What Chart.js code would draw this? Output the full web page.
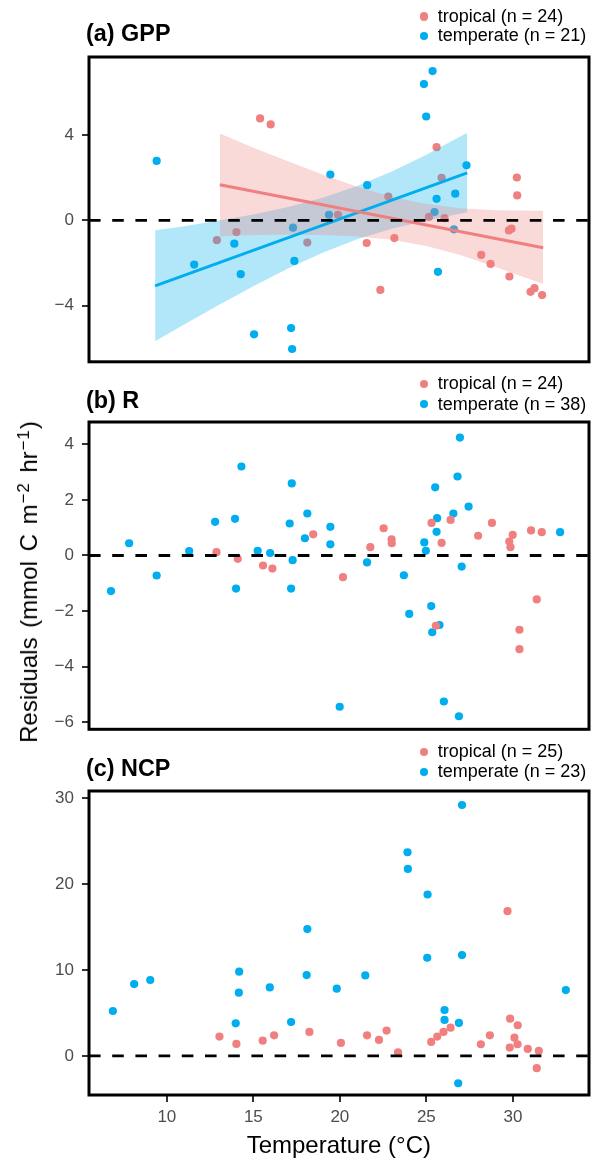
<!DOCTYPE html>
<html><head><meta charset="utf-8">
<script src="https://cdn.jsdelivr.net/npm/chart.js@4.4.1/dist/chart.umd.min.js"></script>
<style>
html,body{margin:0;padding:0;background:#fff;}
body{width:594px;height:1160px;position:relative;overflow:hidden;font-family:"Liberation Sans",Arial,Helvetica,sans-serif;}
canvas{position:absolute;left:0;}
.t{position:absolute;white-space:nowrap;line-height:1;color:#000;}
.title{font-weight:bold;font-size:23.4px;left:86px;}
.leg{font-size:18px;left:437.7px;}
.dot{position:absolute;width:8.3px;height:8.3px;border-radius:50%;left:420px;}
.red{background:#F08080;}
.blue{background:#00AEEF;}
sup{font-size:0.7em;vertical-align:0.5em;line-height:0;margin-left:1px;letter-spacing:1px;}
</style></head><body>
<canvas id="ca" width="594" height="380" style="top:0px"></canvas>
<canvas id="cb" width="594" height="370" style="top:380px"></canvas>
<canvas id="cc" width="594" height="410" style="top:750px"></canvas>

<div class="t title" style="top:21.9px">(a) GPP</div>
<div class="dot red" style="top:12.4px"></div><div class="t leg" style="top:6.5px">tropical (n = 24)</div>
<div class="dot blue" style="top:31.9px"></div><div class="t leg" style="top:26px">temperate (n = 21)</div>

<div class="t title" style="top:388.5px">(b) R</div>
<div class="dot red" style="top:379.9px"></div><div class="t leg" style="top:374px">tropical (n = 24)</div>
<div class="dot blue" style="top:400.2px"></div><div class="t leg" style="top:394.6px">temperate (n = 38)</div>

<div class="t title" style="top:756.9px">(c) NCP</div>
<div class="dot red" style="top:747.9px"></div><div class="t leg" style="top:742.1px">tropical (n = 25)</div>
<div class="dot blue" style="top:767.6px"></div><div class="t leg" style="top:761.8px">temperate (n = 23)</div>

<div class="t" style="left:88.8px;width:500px;text-align:center;top:1133px;font-size:24px;">Temperature (°C)</div>
<div class="t" style="left:28.75px;top:582px;font-size:24px;word-spacing:3px;transform:translate(-50%,-50%) rotate(-90deg);">Residuals (mmol C m<sup>−2</sup> hr<sup>−1</sup>)</div>

<script>
// ---------- DATA ----------
const xRange = [5.5, 34.4];
const xTicks = [10, 15, 20, 25, 30];

// (a) GPP
const gppTropX = [15.39,16.0,22.8,25.59,25.88,30.23,30.25,19.89,25.15,26.05,29.77,29.92,14.02,12.89,18.12,21.55,23.15,22.34,28.17,28.71,29.80,31.02,31.25,31.69];
const gppTropY = [4.78,4.50,1.12,3.43,2.0,2.01,1.17,0.26,0.16,0.11,-0.47,-0.39,-0.55,-0.93,-1.04,-1.06,-0.83,-3.26,-1.62,-2.04,-2.63,-3.35,-3.18,-3.50];
const gppTempX = [9.41,19.45,21.58,24.86,25.36,24.99,27.32,26.67,25.59,19.37,25.47,26.59,13.9,17.29,17.37,11.58,14.27,25.67,15.04,17.18,17.24];
const gppTempY = [2.79,2.15,1.65,6.39,7.0,4.87,2.58,1.25,1.01,0.26,0.39,-0.42,-1.09,-0.34,-1.90,-2.07,-2.52,-2.41,-5.34,-5.05,-6.03];
const gppYRange = [-6.63, 7.66];
const gppYTicks = [-4, 0, 4];

// fitted lines and confidence bands (panel a)
const tropBandX = [13.06,15,17,19,21,23,25,27,29,31.75];
const tropBandHi = [4.07,3.41,2.77,2.15,1.58,1.11,0.77,0.57,0.48,0.45];
const tropBandLo = [-0.76,-0.68,-0.67,-0.68,-0.75,-0.91,-1.20,-1.64,-2.18,-2.98];
const tropFitX = [13.06,31.75];
const tropFitY = [1.67,-1.28];
const tempBandX = [9.32,11,13,15,17,19,21,23,25,27.36];
const tempBandHi = [-0.46,-0.27,-0.01,0.28,0.63,1.06,1.61,2.29,3.08,4.11];
const tempBandLo = [-5.67,-4.88,-3.97,-3.09,-2.26,-1.52,-0.89,-0.39,0.00,0.38];
const tempFitX = [9.32,27.36];
const tempFitY = [-3.07,2.23];

// (b) R
const rTropX = [25.30,26.40,28.79,22.53,18.46,27.99,29.99,31.05,31.67,22.99,23.0,21.76,25.88,29.79,29.86,12.87,14.10,15.56,16.10,20.18,31.38,25.55,30.38,30.38];
const rTropY = [1.17,1.28,1.17,0.98,0.76,0.71,0.74,0.90,0.84,0.58,0.44,0.30,0.45,0.50,0.30,0.12,-0.12,-0.36,-0.47,-0.78,-1.58,-2.53,-2.67,-3.37];
const rTempX = [26.94,14.31,17.22,26.80,25.51,27.44,12.79,13.94,17.10,18.12,19.45,25.62,26.56,25.59,17.98,7.82,32.73,24.88,19.45,24.97,11.29,15.25,15.97,17.27,21.57,27.04,9.41,23.70,6.77,14.0,17.18,25.28,24.01,25.76,25.34,19.99,26.01,26.88];
const rTempY = [4.24,3.20,2.59,2.84,2.45,1.76,1.21,1.32,1.15,1.51,1.03,1.34,1.51,0.85,0.62,0.44,0.84,0.47,0.40,0.17,0.16,0.17,0.09,-0.17,-0.25,-0.40,-0.72,-0.71,-1.28,-1.19,-1.19,-1.82,-2.10,-2.50,-2.76,-5.44,-5.25,-5.78];
const rYRange = [-6.25, 4.80];
const rYTicks = [-6, -4, -2, 0, 2, 4];

// (c) NCP
const ncpTropX = [29.69,29.84,30.28,26.40,25.99,25.63,25.28,22.70,22.26,21.57,18.24,16.20,15.54,13.04,14.02,20.06,23.36,28.15,28.67,30.09,29.82,30.27,30.86,31.50,31.38];
const ncpTropY = [16.86,4.34,3.57,3.29,2.79,2.25,1.63,2.95,1.86,2.40,2.79,2.40,1.78,2.25,1.40,1.51,0.43,1.36,2.40,2.13,0.97,1.36,0.81,0.58,-1.43];
const ncpTempX = [27.06,23.91,23.93,25.07,18.12,25.05,27.06,14.18,18.08,21.47,8.11,9.04,15.95,19.82,33.06,14.16,6.88,26.05,26.05,26.88,13.98,17.18,26.84];
const ncpTempY = [29.22,23.72,21.78,18.80,14.77,11.43,11.74,9.81,9.42,9.38,8.37,8.84,7.98,7.83,7.67,7.36,5.23,5.35,4.19,3.84,3.80,3.95,-3.18];
const ncpYRange = [-4.55, 30.85];
const ncpYTicks = [0, 10, 20, 30];

// ---------- STYLE ----------
const RED = '#F08080', BLUE = '#00AEEF';
const RED_FILL = 'rgba(240,128,128,0.30)', BLUE_FILL = 'rgba(0,174,239,0.30)';
const FONT = '"Liberation Sans", Arial, Helvetica, sans-serif';

const zip = (xs, ys) => xs.map((x, i) => ({x, y: ys[i]}));
const fmt = v => v < 0 ? '\u2212' + Math.abs(v) : String(v);

const framePlugin = {
  id: 'frame',
  afterDatasetsDraw(chart) {
    const {ctx, chartArea: a, scales: {y}} = chart;
    const py = y.getPixelForValue(0);
    ctx.save();
    ctx.beginPath();
    ctx.setLineDash([11.6, 11.6]);
    ctx.lineWidth = 2.8;
    ctx.strokeStyle = '#000';
    ctx.moveTo(a.left, py);
    ctx.lineTo(a.right, py);
    ctx.stroke();
    ctx.restore();
  },
  afterDraw(chart) {
    const {ctx, chartArea: a} = chart;
    ctx.save();
    ctx.lineWidth = 3;
    ctx.strokeStyle = '#000';
    ctx.strokeRect(a.left, a.top, a.right - a.left, a.bottom - a.top);
    ctx.restore();
  }
};

function points(xs, ys, color) {
  return {type: 'scatter', data: zip(xs, ys), backgroundColor: color, borderWidth: 0,
          pointRadius: 4.1, pointHoverRadius: 4.1, order: 3};
}

function makePanel(id, datasets, yRange, yTicks, showX, padding) {
  new Chart(document.getElementById(id), {
    type: 'scatter',
    data: {datasets},
    options: {
      responsive: false, animation: false, events: [],
      layout: {padding},
      plugins: {legend: {display: false}, tooltip: {enabled: false}},
      scales: {
        x: {
          type: 'linear', min: xRange[0], max: xRange[1], display: showX,
          afterBuildTicks: s => { s.ticks = xTicks.map(v => ({value: v})); },
          afterFit: s => { s.height = showX ? 40 : 0; },
          border: {display: false},
          grid: {drawOnChartArea: false, drawTicks: true, tickLength: 7, color: '#333', lineWidth: 2},
          ticks: {font: {family: FONT, size: 17}, color: '#4d4d4d', padding: 5, maxRotation: 0,
                  callback: fmt}
        },
        y: {
          type: 'linear', min: yRange[0], max: yRange[1],
          afterBuildTicks: s => { s.ticks = yTicks.map(v => ({value: v})); },
          afterFit: s => { s.width = 89; },
          border: {display: false},
          grid: {drawOnChartArea: false, drawTicks: true, tickLength: 7, color: '#333', lineWidth: 2},
          ticks: {font: {family: FONT, size: 17}, color: '#4d4d4d', padding: 8, callback: fmt}
        }
      }
    },
    plugins: [framePlugin]
  });
}

const bandCommon = {type: 'line', pointRadius: 0, borderWidth: 0, tension: 0, order: 2};
const fitCommon = {type: 'line', pointRadius: 0, borderWidth: 3, tension: 0, fill: false, order: 1};

makePanel('ca', [
  points(gppTropX, gppTropY, RED),
  points(gppTempX, gppTempY, BLUE),
  {...bandCommon, data: zip(tropBandX, tropBandHi), backgroundColor: RED_FILL, borderColor: 'rgba(0,0,0,0)', fill: '+1'},
  {...bandCommon, data: zip(tropBandX, tropBandLo), borderColor: 'rgba(0,0,0,0)', fill: false},
  {...bandCommon, data: zip(tempBandX, tempBandHi), backgroundColor: BLUE_FILL, borderColor: 'rgba(0,0,0,0)', fill: '+1'},
  {...bandCommon, data: zip(tempBandX, tempBandLo), borderColor: 'rgba(0,0,0,0)', fill: false},
  {...fitCommon, data: zip(tropFitX, tropFitY), borderColor: RED},
  {...fitCommon, data: zip(tempFitX, tempFitY), borderColor: BLUE}
], gppYRange, gppYTicks, false, {left: 0, right: 5, top: 57, bottom: 18});

makePanel('cb', [
  points(rTropX, rTropY, RED),
  points(rTempX, rTempY, BLUE)
], rYRange, rYTicks, false, {left: 0, right: 5, top: 42, bottom: 20.7});

makePanel('cc', [
  points(ncpTropX, ncpTropY, RED),
  points(ncpTempX, ncpTempY, BLUE)
], ncpYRange, ncpYTicks, true, {left: 0, right: 5, top: 41, bottom: 25});
</script>
</body></html>
